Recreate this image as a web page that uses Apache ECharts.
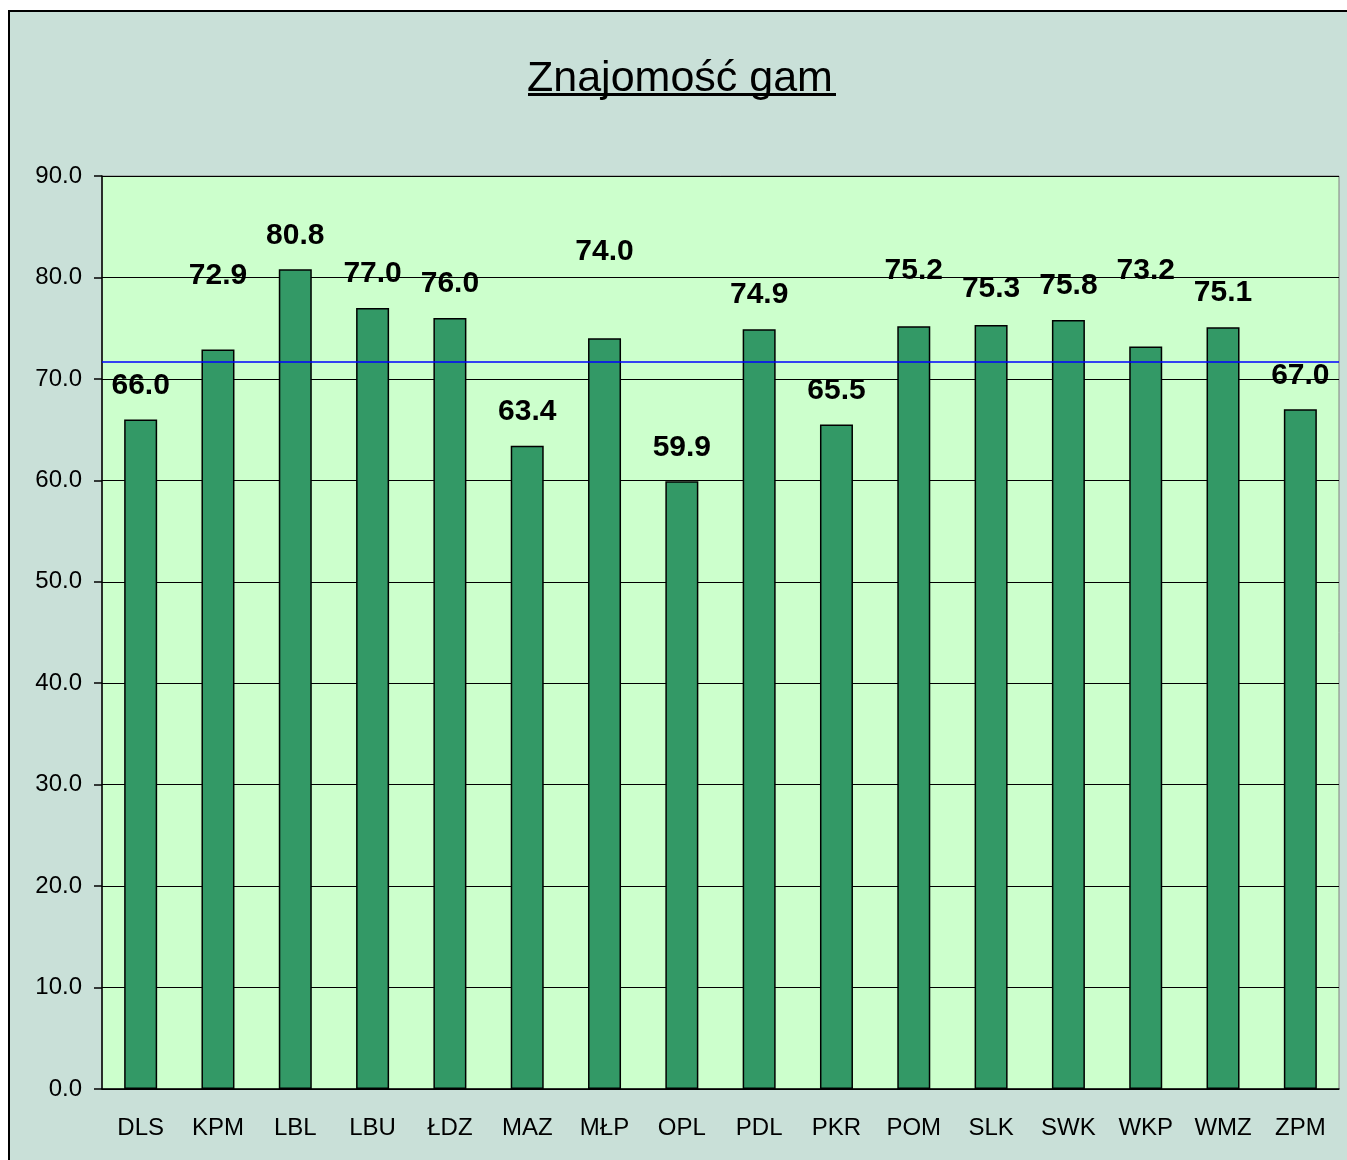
<!DOCTYPE html>
<html>
<head>
<meta charset="utf-8">
<script src="https://cdn.jsdelivr.net/npm/echarts@6/dist/echarts.min.js"></script>
<style>
  html, body { margin: 0; padding: 0; background: #fff; }
  #frame { position: absolute; left: 8px; top: 10px; width: 1360px; height: 1170px;
           border-left: 2px solid #000; border-top: 2px solid #000; background: #c9e0d8; }
  #chart { position: absolute; left: 0; top: 0; width: 1347px; height: 1160px; }
</style>
</head>
<body>
<div id="frame"></div>
<div id="chart"></div>
<script>
(function() {
  // województwa
  let categories = ["DLS", "KPM", "LBL", "LBU", "ŁDZ", "MAZ", "MŁP", "OPL",
                    "PDL", "PKR", "POM", "SLK", "SWK", "WKP", "WMZ", "ZPM"];
  let values = [66.0, 72.9, 80.8, 77.0, 76.0, 63.4, 74.0, 59.9,
                74.9, 65.5, 75.2, 75.3, 75.8, 73.2, 75.1, 67.0];
  // średnia krajowa (niebieska linia)
  let average = 71.7;
  // dodatkowe przesunięcie etykiet w górę (ręcznie przesunięte w oryginale)
  let labelLift = [0, 40, 0, 0, 0, 0, 53, 0, 0, 0, 21, 2, 0, 42, 0, 0];

  var myChart = echarts.init(document.getElementById("chart"));

  let options = {
    backgroundColor: "transparent",
    animation: false,
    title: {
      text: "Znajomość gam",
      left: 522,
      top: 53,
      textStyle: {
        fontFamily: "Liberation Sans",
        fontSize: 43,
        fontWeight: "normal",
        color: "#000",
      },
    },
    graphic: [
      {
        // podkreślenie tytułu
        type: "rect",
        shape: { x: 528, y: 93, width: 308, height: 3 },
        style: { fill: "#000" },
      },
    ],
    grid: {
      left: 102,
      right: 8,
      top: 176,
      bottom: 71,
      show: true,
      backgroundColor: "#ccffcc",
      borderColor: "#808080",
      borderWidth: 1,
    },
    xAxis: {
      type: "category",
      data: categories,
      axisLine: { lineStyle: { color: "#000", width: 1.5 } },
      axisTick: { alignWithLabel: false, length: 8, lineStyle: { color: "#000", width: 1.5 } },
      axisLabel: {
        margin: 27,
        color: "#000",
        fontFamily: "Liberation Sans",
        fontSize: 24,
      },
    },
    yAxis: {
      type: "value",
      min: 0,
      max: 90,
      interval: 10,
      axisLine: { show: true, lineStyle: { color: "#000", width: 1.5 } },
      axisTick: { show: true, length: 8, lineStyle: { color: "#000", width: 1.5 } },
      axisLabel: {
        margin: 20,
        color: "#000",
        fontFamily: "Liberation Sans",
        fontSize: 24,
        formatter: function(v) {
          return v.toFixed(1);
        },
      },
      splitLine: { lineStyle: { color: "#000", width: 1.2 } },
    },
    series: [
      {
        type: "bar",
        barWidth: 33,
        data: values.map(function(v, i) {
          return { value: v, label: { distance: 19 + labelLift[i] } };
        }),
        itemStyle: {
          color: "#339966",
          borderColor: "#000",
          borderWidth: 1.5,
        },
        label: {
          show: true,
          position: "top",
          color: "#000",
          fontFamily: "Liberation Sans",
          fontSize: 30,
          fontWeight: "bold",
          formatter: function(p) {
            return p.value.toFixed(1);
          },
        },
        markLine: {
          silent: true,
          symbol: "none",
          label: { show: false },
          lineStyle: { color: "#0000ff", width: 1.5, type: "solid" },
          data: [{ yAxis: average }],
        },
        z: 3,
      },
    ],
  };
  myChart.setOption(options);
  window.addEventListener("resize", function() {
    myChart.resize();
  });
})();
</script>
</body>
</html>
